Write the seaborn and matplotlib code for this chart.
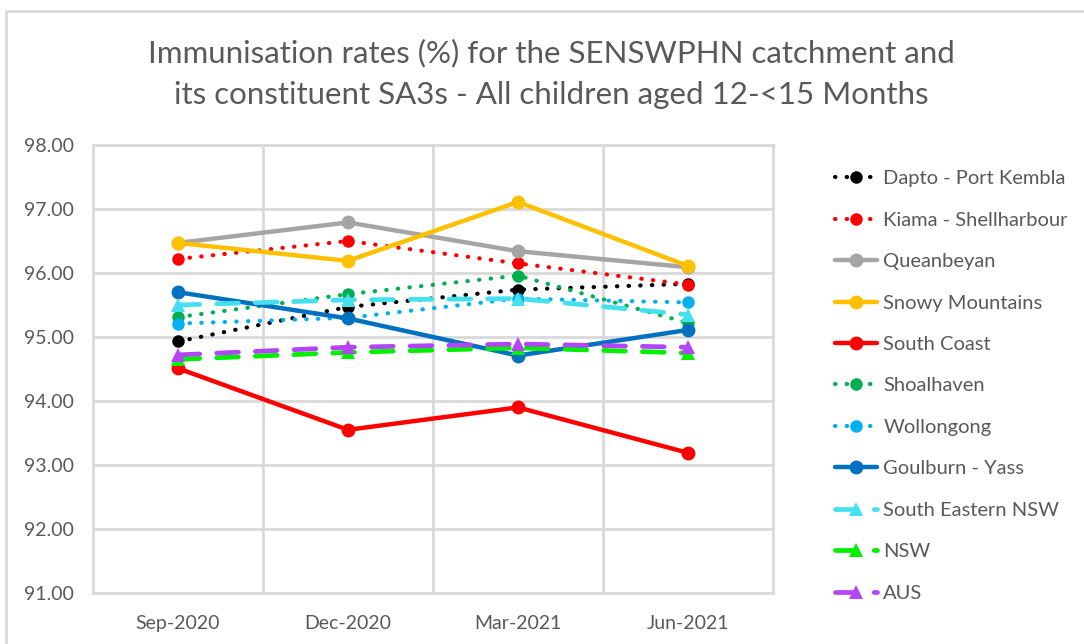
import numpy as np
import pandas as pd
import seaborn as sns
import matplotlib.pyplot as plt
from matplotlib.lines import Line2D

# Quarterly immunisation rates (%)
quarters = ["Sep-2020", "Dec-2020", "Mar-2021", "Jun-2021"]

dapto = [94.93, 95.47, 95.74, 95.83]
kiama = [96.22, 96.50, 96.15, 95.82]
queanbeyan = [96.47, 96.79, 96.34, 96.09]
snowy = [96.47, 96.19, 97.11, 96.11]
south_coast = [94.51, 93.55, 93.90, 93.19]
shoalhaven = [95.31, 95.67, 95.96, 95.22]
wollongong = [95.21, 95.30, 95.60, 95.54]
goulburn = [95.70, 95.29, 94.71, 95.11]
se_nsw = [95.50, 95.58, 95.60, 95.35]
nsw = [94.65, 94.76, 94.83, 94.75]
aus = [94.72, 94.84, 94.89, 94.84]

series = {
    "Dapto - Port Kembla": dapto,
    "Kiama - Shellharbour": kiama,
    "Queanbeyan": queanbeyan,
    "Snowy Mountains": snowy,
    "South Coast": south_coast,
    "Shoalhaven": shoalhaven,
    "Wollongong": wollongong,
    "Goulburn - Yass": goulburn,
    "South Eastern NSW": se_nsw,
    "NSW": nsw,
    "AUS": aus,
}

# (colour, style, marker)
styles = {
    "Dapto - Port Kembla": ("#000000", "dot", "o"),
    "Kiama - Shellharbour": ("#FF0000", "dot", "o"),
    "Queanbeyan": ("#A5A5A5", "solid", "o"),
    "Snowy Mountains": ("#FFC000", "solid", "o"),
    "South Coast": ("#FF0000", "solid", "o"),
    "Shoalhaven": ("#00B050", "dot", "o"),
    "Wollongong": ("#00B0F0", "dot", "o"),
    "Goulburn - Yass": ("#0070C0", "solid", "o"),
    "South Eastern NSW": ("#45E0F0", "dash", "^"),
    "NSW": ("#00F000", "dash", "^"),
    "AUS": ("#B245F5", "dash", "^"),
}

df = pd.DataFrame(
    [(name, q, v) for name, vals in series.items() for q, v in zip(quarters, vals)],
    columns=["Area", "Quarter", "Rate"],
)

sns.set_theme(style="white")
plt.rcParams["font.family"] = ["Lato", "DejaVu Sans"]
text_col = "#595959"
grid_col = "#D9D9D9"

fig = plt.figure(figsize=(10.84, 6.44), dpi=100)
ax = fig.add_axes([93 / 1084, 1 - 593 / 644, 680 / 1084, 448 / 644])

handles = []
for name in series:
    col, ls, mk = styles[name]
    sub = df[df["Area"] == name]
    if ls == "solid":
        kw = dict(linewidth=3.2, linestyle="-", markersize=10)
    elif ls == "dot":
        kw = dict(linewidth=3.0, linestyle=(0, (0.1, 2.7)), markersize=9,
                  dash_capstyle="round")
    else:
        kw = dict(linewidth=3.4, linestyle=(0, (4.6, 3.6)), markersize=10,
                  dash_capstyle="round")
    sns.lineplot(data=sub, x="Quarter", y="Rate", ax=ax, color=col, marker=mk,
                 markeredgewidth=0, label=name, sort=False, **kw)
    handles.append(Line2D([], [], color=col, marker=mk, markeredgewidth=0, **kw))

ax.set_xlim(-0.5, 3.5)
ax.set_ylim(91, 98)
ax.set_yticks(np.arange(91, 98.01, 1))
ax.set_yticklabels([f"{v:.2f}" for v in np.arange(91, 98.01, 1)])
ax.set_xticks([0.5, 1.5, 2.5], minor=True)
ax.grid(True, which="major", axis="y", color=grid_col, linewidth=2)
ax.grid(True, which="minor", axis="x", color=grid_col, linewidth=2)
ax.set_axisbelow(True)
for s in ax.spines.values():
    s.set_color(grid_col)
    s.set_linewidth(2)
ax.tick_params(axis="both", which="both", length=0, labelsize=14, colors=text_col)
ax.tick_params(axis="y", pad=14)
ax.tick_params(axis="x", pad=16)
ax.set_xlabel("")
ax.set_ylabel("")
ax.get_legend().remove()

fig.legend(handles, list(series.keys()), loc="upper left",
           bbox_to_anchor=(827 / 1084, 1 - 162 / 644), frameon=False,
           fontsize=14.5, labelcolor=text_col, handlelength=2.1, handletextpad=0.3,
           labelspacing=1.21, borderaxespad=0)

fig.text(551 / 1084, 1 - 74 / 644,
         "Immunisation rates (%) for the SENSWPHN catchment and\n"
         "its constituent SA3s - All children aged 12-<15 Months",
         ha="center", va="center", fontsize=22.5, color=text_col, linespacing=1.62)

# outer chart border (top and left visible in the reference)
fig.add_artist(Line2D([6 / 1084, 6 / 1084], [0, 1 - 11 / 644], color=grid_col, linewidth=2))
fig.add_artist(Line2D([6 / 1084, 1], [1 - 11 / 644, 1 - 11 / 644], color=grid_col, linewidth=2))

fig.savefig("out.png", dpi=100)
